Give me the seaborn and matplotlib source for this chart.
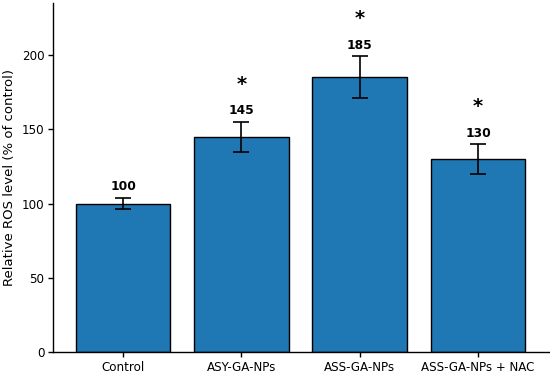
import matplotlib
matplotlib.use("Agg")
import matplotlib.pyplot as plt
import seaborn as sns
import pandas as pd

categories = ["Control", "ASY-GA-NPs", "ASS-GA-NPs", "ASS-GA-NPs + NAC"]
values = [100, 145, 185, 130]
errors = [4, 10, 14, 10]
labels = ["100", "145", "185", "130"]
stars = ["", "*", "*", "*"]

sns.set_style("white")
plt.rcParams['font.family'] = ['DejaVu Sans']
plt.rcParams['text.color'] = 'black'
plt.rcParams['axes.labelcolor'] = 'black'
plt.rcParams['xtick.color'] = 'black'
plt.rcParams['ytick.color'] = 'black'

df = pd.DataFrame({"group": categories, "value": values})

fig = plt.figure(figsize=(5.5, 3.73), dpi=100)
ax = fig.add_axes([0.097, 0.056, 0.901, 0.936])
sns.barplot(data=df, x="group", y="value", color="#1f77b4", saturation=1,
            edgecolor="black", linewidth=1, width=0.8, errorbar=None, ax=ax)
ax.errorbar(range(len(categories)), values, yerr=errors, fmt="none",
            ecolor="black", elinewidth=1.2, capsize=6, capthick=1.2)
for i, (v, e, l, s) in enumerate(zip(values, errors, labels, stars)):
    ax.text(i, v + e + 3, l, ha="center", va="bottom", fontsize=8.8, fontweight="bold")
    if s:
        ax.text(i, v + e + 19, s, ha="center", va="bottom", fontsize=14, fontweight="bold")

ax.set_ylim(0, 235)
ax.set_xlim(-0.59, 3.6)
ax.set_yticks([0, 50, 100, 150, 200])
ax.set_xlabel("")
ax.set_ylabel("Relative ROS level (% of control)", fontsize=9.5, labelpad=4)
ax.tick_params(axis="both", labelsize=8.6, length=3.5, width=1, pad=3,
               bottom=True, left=True, direction="out")
for sp in ["top", "right"]:
    ax.spines[sp].set_visible(False)
for sp in ["left", "bottom"]:
    ax.spines[sp].set_color("black")
    ax.spines[sp].set_linewidth(1)

fig.savefig("out.png", dpi=100)
